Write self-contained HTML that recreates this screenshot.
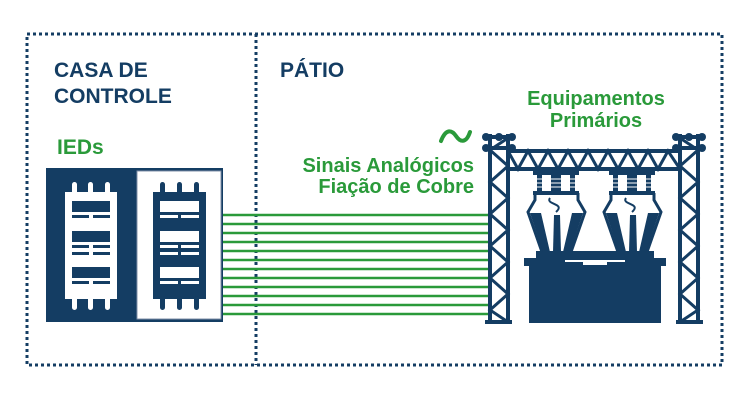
<!DOCTYPE html>
<html><head><meta charset="utf-8"><style>
html,body{margin:0;padding:0;background:#fff;}
svg{display:block;}
text{font-family:"Liberation Sans",Arial,sans-serif;font-weight:bold;}
</style></head><body>
<svg width="750" height="401" viewBox="0 0 750 401" xmlns="http://www.w3.org/2000/svg">
<g fill="none" stroke="#143d63" stroke-width="3" stroke-dasharray="3 3">
<rect x="27" y="34" width="695" height="331"/>
<line x1="256" y1="34" x2="256" y2="365"/>
</g>
<text x="54" y="77" font-size="21" fill="#143d63">CASA DE</text>
<text x="54" y="103" font-size="21" fill="#143d63">CONTROLE</text>
<text x="280" y="77" font-size="21" fill="#143d63">PÁTIO</text>
<text x="57" y="154" font-size="21" fill="#2a9a3a">IEDs</text>
<text x="596" y="105" font-size="20" fill="#2a9a3a" text-anchor="middle">Equipamentos</text>
<text x="596" y="127" font-size="20" fill="#2a9a3a" text-anchor="middle">Primários</text>
<text x="474" y="172" font-size="20" fill="#2a9a3a" text-anchor="end">Sinais Analógicos</text>
<text x="474" y="193" font-size="20" fill="#2a9a3a" text-anchor="end">Fiação de Cobre</text>
<path d="M441 141 C446 128,452 130,456 136 C460 142,466 144,470 132" fill="none" stroke="#2a9a3a" stroke-width="4" stroke-linecap="round"/>
<g stroke="#2a9a3a" stroke-width="2.5">
<line x1="222" y1="215" x2="492" y2="215"/><line x1="222" y1="224" x2="492" y2="224"/>
<line x1="222" y1="233" x2="492" y2="233"/><line x1="222" y1="242" x2="492" y2="242"/>
<line x1="222" y1="251" x2="492" y2="251"/><line x1="222" y1="260" x2="492" y2="260"/>
<line x1="222" y1="269" x2="492" y2="269"/><line x1="222" y1="278" x2="492" y2="278"/>
<line x1="222" y1="287" x2="492" y2="287"/><line x1="222" y1="296" x2="492" y2="296"/>
<line x1="222" y1="305" x2="492" y2="305"/><line x1="222" y1="314" x2="492" y2="314"/>
</g>
<rect x="46" y="168" width="177" height="154" fill="#143d63"/>
<rect x="137" y="171" width="84" height="148" fill="#fff" stroke="#8090a8" stroke-width="1"/>
<g fill="#fff">
<rect x="65" y="192" width="52" height="107"/>
<rect x="72" y="182" width="5" height="14" rx="2.5"/><rect x="88" y="182" width="5" height="14" rx="2.5"/><rect x="105" y="182" width="5" height="14" rx="2.5"/>
<rect x="72" y="296" width="5" height="14" rx="2.5"/><rect x="88" y="296" width="5" height="14" rx="2.5"/><rect x="105" y="296" width="5" height="14" rx="2.5"/>
</g>
<g fill="#143d63">
<rect x="72" y="201" width="38" height="11"/><rect x="72" y="215" width="17" height="3"/><rect x="93" y="215" width="17" height="3"/>
<rect x="72" y="231" width="38" height="11"/><rect x="72" y="245" width="17" height="3"/><rect x="93" y="245" width="17" height="3"/><rect x="72" y="252" width="17" height="3"/><rect x="93" y="252" width="17" height="3"/>
<rect x="72" y="267" width="38" height="11"/><rect x="72" y="281" width="17" height="3"/><rect x="93" y="281" width="17" height="3"/>
<rect x="153" y="192" width="53" height="107"/>
<rect x="160" y="182" width="5" height="14" rx="2.5"/><rect x="177" y="182" width="5" height="14" rx="2.5"/><rect x="194" y="182" width="5" height="14" rx="2.5"/>
<rect x="160" y="296" width="5" height="14" rx="2.5"/><rect x="177" y="296" width="5" height="14" rx="2.5"/><rect x="194" y="296" width="5" height="14" rx="2.5"/>
</g>
<g fill="#fff">
<rect x="160" y="201" width="39" height="11"/><rect x="160" y="215" width="18" height="3"/><rect x="181" y="215" width="18" height="3"/>
<rect x="160" y="231" width="39" height="11"/><rect x="160" y="245" width="18" height="3"/><rect x="181" y="245" width="18" height="3"/><rect x="160" y="252" width="18" height="3"/><rect x="181" y="252" width="18" height="3"/>
<rect x="160" y="267" width="39" height="11"/><rect x="160" y="281" width="18" height="3"/><rect x="181" y="281" width="18" height="3"/>
</g>
<g stroke="#143d63" stroke-width="4" fill="none">
<line x1="490" y1="134" x2="490" y2="323"/><line x1="508" y1="134" x2="508" y2="323"/>
<line x1="680" y1="134" x2="680" y2="323"/><line x1="698" y1="134" x2="698" y2="323"/>
<line x1="484" y1="137" x2="514" y2="137"/><line x1="484" y1="148" x2="514" y2="148"/>
<line x1="674" y1="137" x2="704" y2="137"/><line x1="674" y1="148" x2="704" y2="148"/>
<line x1="508" y1="151" x2="680" y2="151"/><line x1="508" y1="169" x2="680" y2="169"/>
<polyline stroke-width="3" points="490,150 508,166 490,182 508,198 490,214 508,230 490,246 508,262 490,278 508,294 490,310 508,322"/>
<polyline stroke-width="3" points="698,150 680,166 698,182 680,198 698,214 680,230 698,246 680,262 698,278 680,294 698,310 680,322"/>
<polyline stroke-width="3" points="508,151 518,169 528,151 538,169 548,151 558,169 568,151 578,169 588,151 598,169 608,151 618,169 628,151 638,169 648,151 658,169 668,151 680,169"/>
<line x1="490" y1="150" x2="508" y2="138" stroke-width="3"/><line x1="698" y1="150" x2="680" y2="138" stroke-width="3"/>
</g>
<g fill="#143d63">
<circle cx="486" cy="137" r="4"/><circle cx="499" cy="137" r="4"/><circle cx="512" cy="137" r="4"/>
<circle cx="486" cy="148" r="4"/><circle cx="512" cy="148" r="4"/>
<circle cx="676" cy="137" r="4"/><circle cx="689" cy="137" r="4"/><circle cx="702" cy="137" r="4"/>
<circle cx="676" cy="148" r="4"/><circle cx="702" cy="148" r="4"/>
<rect x="485" y="320" width="27" height="4"/><rect x="676" y="320" width="27" height="4"/>
<rect x="529" y="262" width="132" height="61"/>
<rect x="524" y="258" width="41" height="8"/><rect x="625" y="258" width="41" height="8"/>
<rect x="536" y="251" width="118" height="9"/>
<rect x="583" y="262" width="24" height="3" fill="#fff"/>
<!-- insulator stacks -->
<rect x="533" y="171" width="46" height="4"/><rect x="533" y="191" width="46" height="4"/>
<rect x="609" y="171" width="46" height="4"/><rect x="609" y="191" width="46" height="4"/>
<rect x="537" y="174" width="5" height="18"/><rect x="551" y="174" width="5" height="18"/><rect x="556" y="174" width="5" height="18"/><rect x="570" y="174" width="5" height="18"/>
<rect x="613" y="174" width="5" height="18"/><rect x="627" y="174" width="5" height="18"/><rect x="632" y="174" width="5" height="18"/><rect x="646" y="174" width="5" height="18"/>
</g>
<g fill="none" stroke="#fff" stroke-width="1">
<path d="M537 179h5M537 183h5M537 187h5M551 179h10M551 183h10M551 187h10M570 179h5M570 183h5M570 187h5"/>
<path d="M613 179h5M613 183h5M613 187h5M627 179h10M627 183h10M627 187h10M646 179h5M646 183h5M646 187h5"/>
</g>
<g fill="none" stroke="#143d63" stroke-width="3">
<path d="M535 193 L535 200 L528 212 L542 252 M578 193 L578 200 L585 212 L571 252"/>
<path d="M611 193 L611 200 L604 212 L618 252 M654 193 L654 200 L661 212 L647 252"/>
<path d="M550 198 C545 205,566 203,556 212 M626 198 C621 205,642 203,632 212" stroke-width="2"/>
</g>
<g fill="#143d63">
<polygon points="530,213 541,213 550,252 543,252"/><polygon points="583,213 572,213 563,252 570,252"/>
<polygon points="554,215 560,215 561,252 553,252"/>
<polygon points="606,213 617,213 626,252 619,252"/><polygon points="659,213 648,213 639,252 646,252"/>
<polygon points="630,215 636,215 637,252 629,252"/>
</g>
</svg>
</body></html>
